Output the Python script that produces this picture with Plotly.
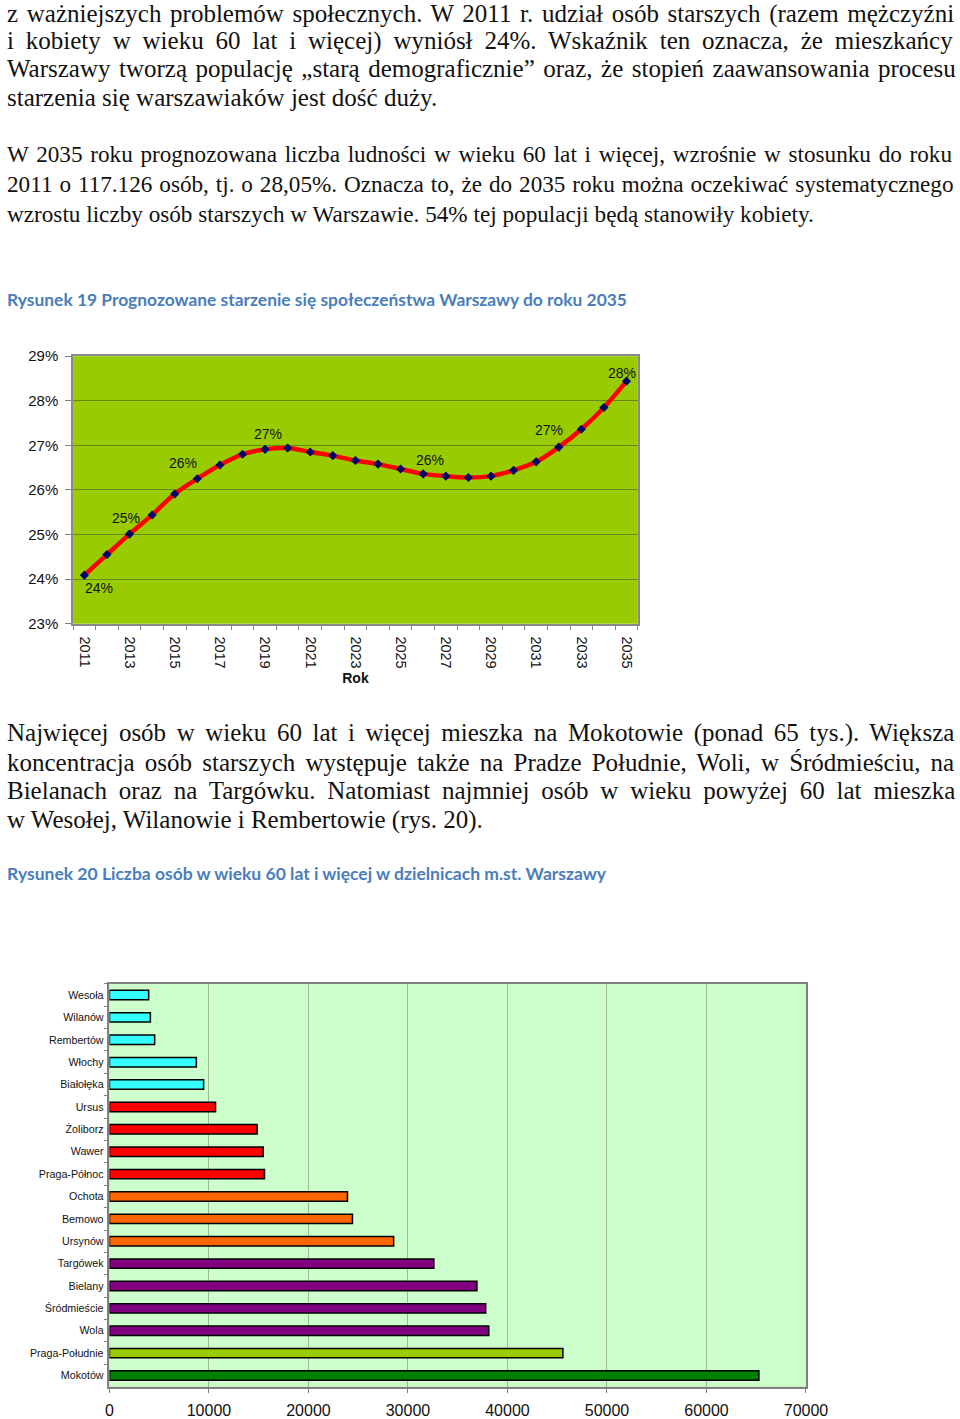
import plotly.graph_objects as go

# ---------------- data ----------------
years = list(range(2011, 2036))
share = [24.09, 24.55, 25.01, 25.44, 25.91, 26.25, 26.56, 26.80, 26.91, 26.94,
         26.85, 26.77, 26.66, 26.58, 26.47, 26.36, 26.31, 26.28, 26.31, 26.44,
         26.63, 26.96, 27.36, 27.85, 28.44]
label_years = [2011, 2013, 2016, 2019, 2026, 2032, 2035]
x_tick_years = list(range(2011, 2036, 2))
y_ticks = [23, 24, 25, 26, 27, 28, 29]

districts = ["Wesoła", "Wilanów", "Rembertów", "Włochy", "Białołęka", "Ursus",
             "Żoliborz", "Wawer", "Praga-Północ", "Ochota", "Bemowo", "Ursynów",
             "Targówek", "Bielany", "Śródmieście", "Wola", "Praga-Południe", "Mokotów"]
elderly = [3940, 4110, 4540, 8730, 9460, 10660, 14840, 15450, 15580, 23920,
           24420, 28560, 32600, 36930, 37810, 38120, 45570, 65270]
bar_ticks = [0, 10000, 20000, 30000, 40000, 50000, 60000, 70000]

# ---------------- style ----------------
bar_colors = (["#33FFFF"] * 5 + ["#FF0000"] * 4 + ["#FF6600"] * 3 +
              ["#800080"] * 4 + ["#99CC00", "#008000"])
label_offsets = [(15, -13), (-4, 16), (-14, 16), (3, 15), (7, 14), (-10, 17), (-5, 8)]

W, H = 960, 1419
# calibration of page pixels -> paper fraction
OX, SX = 3.3, 0.975
OY, SY = 8.0, 0.989
def px(x):
    return ((x - OX) / SX) / W
def py(y):
    return 1 - ((y - OY) / SY) / H

# (y centre, text, font size, word spacing)
para_lines = [
    (13, "z ważniejszych problemów społecznych. W 2011 r. udział osób starszych (razem mężczyźni", 25, 2.4),
    (40, "i kobiety w wieku 60 lat i więcej) wyniósł 24%. Wskaźnik ten oznacza, że mieszkańcy", 25, 5.6),
    (68, "Warszawy tworzą populację „starą demograficznie” oraz, że stopień zaawansowania procesu", 25, 2.3),
    (97, "starzenia się warszawiaków jest dość duży.", 25, 0),
    (154, "W 2035 roku prognozowana liczba ludności w wieku 60 lat i więcej, wzrośnie w stosunku do roku", 23.2, 1.9),
    (184, "2011 o 117.126 osób, tj. o 28,05%. Oznacza to, że do 2035 roku można oczekiwać systematycznego", 23.2, 1.1),
    (214, "wzrostu liczby osób starszych w Warszawie. 54% tej populacji będą stanowiły kobiety.", 23.2, 0),
    (736, "Najwięcej osób w wieku 60 lat i więcej mieszka na Mokotowie (ponad 65 tys.). Większa", 25, 4.3),
    (765, "koncentracja osób starszych występuje także na Pradze Południe, Woli, w Śródmieściu, na", 25, 3.9),
    (794, "Bielanach oraz na Targówku. Natomiast najmniej osób w wieku powyżej 60 lat mieszka", 25, 5.6),
    (823, "w Wesołej, Wilanowie i Rembertowie (rys. 20).", 25, 0),
]
captions = [
    (300, "Rysunek 19 Prognozowane starzenie się społeczeństwa Warszawy do roku 2035", 17.4),
    (877, "Rysunek 20 Liczba osób w wieku 60 lat i więcej w dzielnicach m.st. Warszawy", 17.5),
]

fig = go.Figure()

fig.add_trace(go.Scatter(
    x=years, y=share, mode="lines+markers",
    line=dict(color="#FF0000", width=4.5, shape="spline"),
    marker=dict(symbol="diamond", color="#000066", size=7),
    xaxis="x", yaxis="y", hoverinfo="skip"))

fig.add_trace(go.Bar(
    x=elderly, y=districts, orientation="h", width=0.42,
    marker=dict(color=bar_colors, line=dict(color="#000000", width=1.5)),
    xaxis="x2", yaxis="y2", hoverinfo="skip"))

annotations = []
for (yr, (dx, dy)) in zip(label_years, label_offsets):
    v = share[years.index(yr)]
    annotations.append(dict(
        x=yr, y=v, xref="x", yref="y", text=f"{round(v)}%", showarrow=False,
        xshift=dx, yshift=dy, font=dict(family="Liberation Sans", size=14, color="#111111")))

for (yc, txt, fs, ws) in para_lines:
    annotations.append(dict(
        x=px(4), y=py(yc), xref="paper", yref="paper", xanchor="left", yanchor="middle",
        text=f'<span style="word-spacing:{ws}px">{txt}</span>', showarrow=False,
        font=dict(family="Liberation Serif", size=fs, color="#111111")))

for (yc, txt, fs) in captions:
    annotations.append(dict(
        x=px(4), y=py(yc), xref="paper", yref="paper", xanchor="left", yanchor="middle",
        text=f"<b>{txt}</b>", showarrow=False,
        font=dict(family="Lato", size=fs, color="#4A7EBB")))

fig.update_layout(
    width=W, height=H, autosize=False, margin=dict(l=0, r=0, t=0, b=0),
    paper_bgcolor="white", showlegend=False,
    annotations=annotations,
    xaxis=dict(
        domain=[px(72.5), px(638.5)], anchor="y", range=[2010.5, 2035.5],
        tickmode="array", tickvals=x_tick_years, ticktext=[str(y) for y in x_tick_years],
        tickangle=90, ticks="", showgrid=False, zeroline=False, ticklabelstandoff=8,
        minor=dict(tickmode="linear", tick0=2010.5, dtick=1, ticks="outside",
                   ticklen=5, tickcolor="#808080", showgrid=False),
        showline=True, linecolor="#8a8a8a", linewidth=1.5, mirror=True,
        tickfont=dict(family="Liberation Sans", size=14.5, color="#111111"),
        title=dict(text="<b>Rok</b>", font=dict(family="Liberation Sans", size=14, color="#111111"),
                   standoff=6),
    ),
    yaxis=dict(
        domain=[py(626), py(357)], anchor="x", range=[23, 29],
        tickmode="array", tickvals=y_ticks, ticktext=[f"{v}%" for v in y_ticks],
        ticks="outside", ticklen=6, tickcolor="#808080", ticklabelstandoff=4,
        showgrid=True, gridcolor="#66881a", gridwidth=1, zeroline=False,
        showline=True, linecolor="#8a8a8a", linewidth=1.5, mirror=True,
        tickfont=dict(family="Liberation Sans", size=15, color="#111111"),
    ),
    plot_bgcolor="#99CC00",
    xaxis2=dict(
        domain=[px(109), px(807)], anchor="y2", range=[0, 70000],
        tickmode="array", tickvals=bar_ticks, ticktext=[str(v) for v in bar_ticks],
        ticks="outside", ticklen=4, tickcolor="#808080", ticklabelstandoff=4,
        showgrid=True, gridcolor="#9ab89a", gridwidth=1, zeroline=False,
        showline=True, linecolor="#808080", linewidth=2, mirror=True,
        tickfont=dict(family="Liberation Sans", size=16, color="#111111"),
    ),
    yaxis2=dict(
        domain=[py(1393), py(988)], anchor="x2", autorange="reversed",
        type="category", ticks="outside", tickson="boundaries", ticklen=4, tickcolor="#808080",
        ticklabelstandoff=2,
        showgrid=False, showline=True, linecolor="#808080", linewidth=1.5, mirror=True,
        tickfont=dict(family="Liberation Sans", size=10.7, color="#111111"),
    ),
)

# light green background for the bar plot area (second subplot)
fig.add_shape(type="rect", xref="x2 domain", yref="y2 domain", x0=0, x1=1, y0=0, y1=1,
              fillcolor="#CCFFCC", line=dict(width=0), layer="below")

fig.write_html("out.html", config={"responsive": False})
